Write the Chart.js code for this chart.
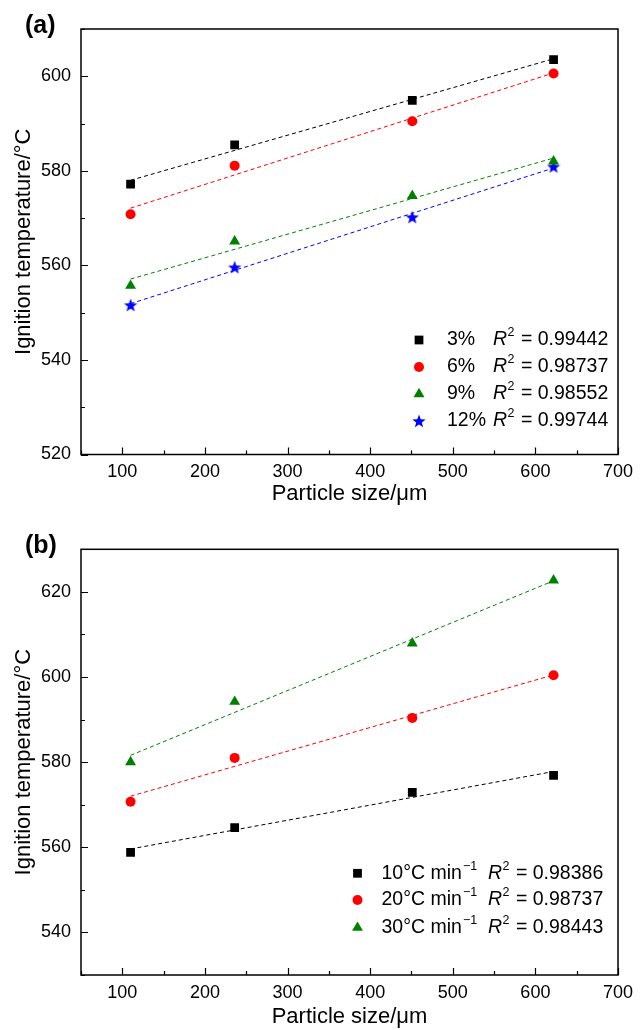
<!DOCTYPE html>
<html><head><meta charset="utf-8">
<script src="https://cdn.jsdelivr.net/npm/chart.js@4.4.0/dist/chart.umd.min.js"></script>
<style>
html,body{margin:0;padding:0;background:#fff;}
#wrap{position:relative;width:644px;height:1030px;overflow:hidden;}
.c{position:absolute;left:0;width:644px;height:515px;}
</style></head><body>
<div id="wrap">
<div class="c" style="top:0"><canvas id="ca" width="644" height="515"></canvas></div>
<div class="c" style="top:515px"><canvas id="cb" width="644" height="515"></canvas></div>
</div>
<script>
// ---------- data ----------
const particleSizes = [110, 236, 451, 622];
const fitX = [110, 622];               // x range of the fitted lines
const xTickLabels = [100, 200, 300, 400, 500, 600, 700];
const yTickLabelsA = [520, 540, 560, 580, 600];
const yTickLabelsB = [540, 560, 580, 600, 620];

// panel (a): coal concentration
const seriesA = ['3%', '6%', '9%', '12%'];
const r2A = ['0.99442', '0.98737', '0.98552', '0.99744'];
const a3  = [577.2, 585.5, 594.9, 603.5];
const a6  = [570.8, 581.1, 590.5, 600.6];
const a9  = [555.7, 565.1, 574.7, 582.0];
const a12 = [551.6, 559.6, 570.2, 580.9];
const fitA3  = [578.0, 603.7];
const fitA6  = [572.1, 600.7];
const fitA9  = [557.1, 582.7];
const fitA12 = [551.9, 580.6];

// panel (b): heating rate
const seriesB = ['10°C min', '20°C min', '30°C min'];
const r2B = ['0.98386', '0.98737', '0.98443'];
const b10 = [558.8, 564.6, 572.9, 576.9];
const b20 = [570.7, 581.0, 590.4, 600.4];
const b30 = [580.0, 594.2, 607.9, 622.7];
const fitB10 = [559.6, 577.8];
const fitB20 = [572.0, 600.5];
const fitB30 = [581.6, 622.6];

// ---------- styles ----------
const FONT = "'Liberation Sans', Arial, Helvetica, sans-serif";
const C_BLACK = '#000000', C_RED = '#ff0000', C_GREEN = '#008000', C_BLUE = '#0000ff';

function makeStar(color, size) {
  const cv = document.createElement('canvas');
  cv.width = size; cv.height = size;
  const g = cv.getContext('2d');
  const cx = size / 2, cy = size / 2 + 0.6, R = size / 2, r = R * 0.42;
  g.beginPath();
  for (let i = 0; i < 10; i++) {
    const ang = -Math.PI / 2 + i * Math.PI / 5;
    const rad = i % 2 === 0 ? R : r;
    const px = cx + rad * Math.cos(ang), py = cy + rad * Math.sin(ang);
    i === 0 ? g.moveTo(px, py) : g.lineTo(px, py);
  }
  g.closePath(); g.fillStyle = color; g.fill();
  return cv;
}
const starImg = makeStar(C_BLUE, 14);

const MARK = {
  rect:     { pointStyle: 'rect', radius: 6.2 },
  circle:   { pointStyle: 'circle', radius: 5 },
  triangle: { pointStyle: 'triangle', radius: 6.3 },
  star:     { pointStyle: starImg, radius: 6 }
};

function drawMarker(ctx, kind, color, x, y) {
  ctx.save();
  ctx.fillStyle = color;
  if (kind === 'rect') {
    const s = Math.SQRT1_2 * MARK.rect.radius;
    ctx.fillRect(x - s, y - s, 2 * s, 2 * s);
  } else if (kind === 'circle') {
    ctx.beginPath(); ctx.arc(x, y, MARK.circle.radius, 0, Math.PI * 2); ctx.fill();
  } else if (kind === 'triangle') {
    const r = MARK.triangle.radius;
    ctx.beginPath();
    for (let i = 0; i < 3; i++) {
      const a = i * 2 * Math.PI / 3;
      const px = x + Math.sin(a) * r, py = y - Math.cos(a) * r;
      i === 0 ? ctx.moveTo(px, py) : ctx.lineTo(px, py);
    }
    ctx.closePath(); ctx.fill();
  } else if (kind === 'star') {
    ctx.drawImage(starImg, x - starImg.width / 2, y - starImg.height / 2);
  }
  ctx.restore();
}

function scatterSet(label, vals, kind, color) {
  return {
    type: 'scatter', label,
    data: particleSizes.map((x, i) => ({ x, y: vals[i] })),
    pointStyle: MARK[kind].pointStyle, pointRadius: MARK[kind].radius,
    pointBackgroundColor: color, pointBorderColor: color, pointBorderWidth: 0,
    order: 0
  };
}
function fitSet(vals, color) {
  return {
    type: 'line', label: 'fit',
    data: fitX.map((x, i) => ({ x, y: vals[i] })),
    borderColor: color, borderWidth: 1, borderDash: [4, 3],
    pointRadius: 0, fill: false, order: 1
  };
}

const frameTicks = {
  id: 'frameTicks',
  afterDraw(chart) {
    const { ctx, chartArea: { left, right, top, bottom } } = chart;
    const xs = chart.scales.x, ys = chart.scales.y;
    ctx.save();
    ctx.strokeStyle = '#000'; ctx.lineWidth = 1.2;
    ctx.beginPath();
    xs.ticks.forEach(t => {
      const p = Math.round(xs.getPixelForValue(t.value)) + 0.5;
      const len = t.value % 100 === 0 ? 7 : 4;
      ctx.moveTo(p, bottom); ctx.lineTo(p, bottom - len);
    });
    ys.ticks.forEach(t => {
      const p = Math.round(ys.getPixelForValue(t.value)) + 0.5;
      const len = t.value % 20 === 0 ? 7 : 4;
      ctx.moveTo(left, p); ctx.lineTo(left + len, p);
    });
    ctx.stroke();
    ctx.lineWidth = 1.5;
    ctx.strokeRect(left, top, right - left, bottom - top);
    ctx.restore();
  }
};

function makeLegendPlugin(panel, rows, markerX, textX, rX, rowY, superFor) {
  return {
    id: 'richLegend',
    afterDraw(chart) {
      const ctx = chart.ctx;
      ctx.save();
      // panel letter
      ctx.fillStyle = '#000';
      ctx.font = 'bold 25px ' + FONT;
      ctx.textBaseline = 'middle'; ctx.textAlign = 'left';
      ctx.fillText(panel.text, panel.x, panel.y);
      const fs = 19.5, sfs = 12.5;
      rows.forEach((row, i) => {
        const y = rowY[i];
        drawMarker(ctx, row.kind, row.color, markerX, y);
        ctx.fillStyle = '#000';
        ctx.textBaseline = 'middle';
        ctx.font = fs + 'px ' + FONT;
        ctx.fillText(row.label, textX, y);
        if (superFor) {
          const w = ctx.measureText(row.label).width;
          ctx.font = sfs + 'px ' + FONT;
          ctx.fillText('\u22121', textX + w + 1, y - 7);
        }
        ctx.font = 'italic ' + fs + 'px ' + FONT;
        ctx.fillText('R', rX, y);
        const wr = ctx.measureText('R').width;
        ctx.font = sfs + 'px ' + FONT;
        ctx.fillText('2', rX + wr + 0.5, y - 7);
        const w2 = ctx.measureText('2').width;
        ctx.font = fs + 'px ' + FONT;
        ctx.fillText(' = ' + row.r2, rX + wr + 0.5 + w2 + 1, y);
      });
      ctx.restore();
    }
  };
}

function baseOptions(yMin, yMax, yLabels, padTop, xAxisH, titlePadB) {
  return {
    responsive: false, animation: false,
    layout: { padding: { top: padTop, right: 26, left: 0, bottom: 0 } },
    plugins: { legend: { display: false }, tooltip: { enabled: false } },
    scales: {
      x: {
        type: 'linear', min: 50, max: 700,
        afterBuildTicks(s) { s.ticks = []; for (let v = 50; v <= 700; v += 50) s.ticks.push({ value: v }); },
        ticks: {
          autoSkip: false, maxRotation: 0, padding: 7, color: '#000',
          font: { family: FONT, size: 18 },
          callback: v => xTickLabels.includes(v) ? String(v) : ''
        },
        grid: { display: false, drawTicks: false },
        border: { display: false },
        title: { display: true, text: 'Particle size/\u03bcm', color: '#000',
                 font: { family: FONT, size: 22 }, padding: { top: 0, bottom: titlePadB } },
        afterFit(s) { s.height = xAxisH; }
      },
      y: {
        type: 'linear', min: yMin, max: yMax,
        afterBuildTicks(s) { s.ticks = []; for (let v = yMin; v <= yMax; v += 10) s.ticks.push({ value: v }); },
        ticks: {
          padding: 10, color: '#000', font: { family: FONT, size: 18 },
          callback: v => yLabels.includes(v) ? String(v) : ''
        },
        grid: { display: false, drawTicks: false },
        border: { display: false },
        title: { display: true, text: 'Ignition temperature/\u00b0C', color: '#000',
                 font: { family: FONT, size: 22 }, padding: { top: 11, bottom: 0 } },
        afterFit(s) { s.width = 81; }
      }
    }
  };
}

// ---------- chart (a) ----------
new Chart(document.getElementById('ca'), {
  data: {
    datasets: [
      fitSet(fitA3, C_BLACK), fitSet(fitA6, C_RED), fitSet(fitA9, C_GREEN), fitSet(fitA12, C_BLUE),
      scatterSet(seriesA[0], a3, 'rect', C_BLACK),
      scatterSet(seriesA[1], a6, 'circle', C_RED),
      scatterSet(seriesA[2], a9, 'triangle', C_GREEN),
      scatterSet(seriesA[3], a12, 'star', C_BLUE)
    ]
  },
  options: baseOptions(520, 610, yTickLabelsA, 29, 60.5, 8),
  plugins: [frameTicks, makeLegendPlugin({ text: '(a)', x: 25, y: 26 }, [
    { kind: 'rect', color: C_BLACK, label: seriesA[0], r2: r2A[0] },
    { kind: 'circle', color: C_RED, label: seriesA[1], r2: r2A[1] },
    { kind: 'triangle', color: C_GREEN, label: seriesA[2], r2: r2A[2] },
    { kind: 'star', color: C_BLUE, label: seriesA[3], r2: r2A[3] }
  ], 419, 447, 493, [340, 367, 394, 421], false)]
});

// ---------- chart (b) ----------
new Chart(document.getElementById('cb'), {
  data: {
    datasets: [
      fitSet(fitB10, C_BLACK), fitSet(fitB20, C_RED), fitSet(fitB30, C_GREEN),
      scatterSet(seriesB[0], b10, 'rect', C_BLACK),
      scatterSet(seriesB[1], b20, 'circle', C_RED),
      scatterSet(seriesB[2], b30, 'triangle', C_GREEN)
    ]
  },
  options: baseOptions(530, 630, yTickLabelsB, 34.3, 55, 0),
  plugins: [frameTicks, makeLegendPlugin({ text: '(b)', x: 25, y: 31 }, [
    { kind: 'rect', color: C_BLACK, label: seriesB[0], r2: r2B[0] },
    { kind: 'circle', color: C_RED, label: seriesB[1], r2: r2B[1] },
    { kind: 'triangle', color: C_GREEN, label: seriesB[2], r2: r2B[2] }
  ], 357.5, 381.5, 488, [358.3, 385, 412.7], true)]
});
</script>
</body></html>
